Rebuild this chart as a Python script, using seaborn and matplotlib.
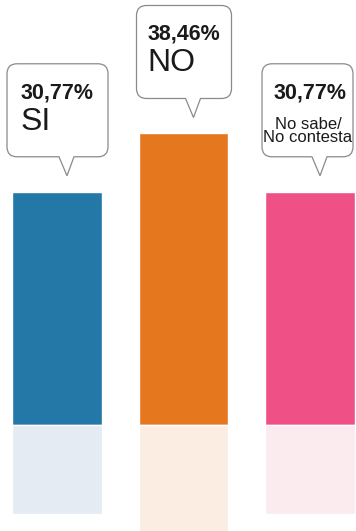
import matplotlib
matplotlib.use('Agg')
import matplotlib.pyplot as plt
import matplotlib.transforms as mtransforms
from matplotlib.path import Path
from matplotlib.patches import PathPatch
import seaborn as sns
import pandas as pd

# data
categories = ['SI', 'NO', 'No sabe/\nNo contesta']
values = [30.77, 38.46, 30.77]
value_labels = ['30,77%', '38,46%', '30,77%']

# style
bar_colors = ['#2478a8', '#e5781e', '#ef5186']
shade_colors = ['#e4ebf3', '#fbede1', '#fbebef']
reflection = 0.38
box_left = [-50, -47, -48]
box_right = [51, 48, 43]

sns.set_style('white')
plt.rcParams['font.family'] = ['Liberation Sans', 'DejaVu Sans']

fig = plt.figure(figsize=(3.56, 5.31), dpi=100)
ax = fig.add_axes([0, 0, 1, 1])

df = pd.DataFrame({'cat': categories, 'value': values})
df['mirror'] = -df['value'] * reflection

sns.barplot(data=df, x='cat', y='value', hue='cat', palette=bar_colors,
            width=0.71, saturation=1, legend=False, ax=ax)
sns.barplot(data=df, x='cat', y='mirror', hue='cat', palette=shade_colors,
            width=0.71, saturation=1, legend=False, ax=ax)

ax.set_xlim(-0.4506, 2.3636)
ax.set_ylim(-13.98, 56.07)
ax.axis('off')


def bubble_path(L, R, B, T, tip=(10, 16), r=10):
    tx, ty = tip
    pl, pr = tx - 8, tx + 7
    verts = [(pl, B), (tx, ty), (pr, B), (R - r, B), (R, B), (R, B + r),
             (R, T - r), (R, T), (R - r, T), (L + r, T), (L, T), (L, T - r),
             (L, B + r), (L, B), (L + r, B), (pl, B)]
    codes = [Path.MOVETO, Path.LINETO, Path.LINETO, Path.LINETO,
             Path.CURVE3, Path.CURVE3, Path.LINETO, Path.CURVE3, Path.CURVE3,
             Path.LINETO, Path.CURVE3, Path.CURVE3, Path.LINETO,
             Path.CURVE3, Path.CURVE3, Path.CLOSEPOLY]
    return Path(verts, codes)


for i, (cat, val, lab) in enumerate(zip(categories, values, value_labels)):
    # pixel offsets anchored at the top centre of each bar
    trans = mtransforms.ScaledTranslation(i, val, ax.transData)
    patch = PathPatch(bubble_path(box_left[i], box_right[i], 35, 128),
                      facecolor='white', edgecolor='#8a8a8a', lw=0.9,
                      transform=trans)
    fig.add_artist(patch)
    fig.text(0, 99, lab, transform=trans, ha='center', va='center',
             fontsize=15.5, fontweight='bold', color='#1a1a1a')
    if '\n' in cat:
        fig.text(-2, 61, cat, transform=trans, ha='center', va='center',
                 fontsize=12, color='#1a1a1a', linespacing=0.88)
    else:
        fig.text(-36, 70, cat, transform=trans, ha='left', va='center',
                 fontsize=23, color='#1a1a1a')

fig.savefig('out.png', dpi=100)
